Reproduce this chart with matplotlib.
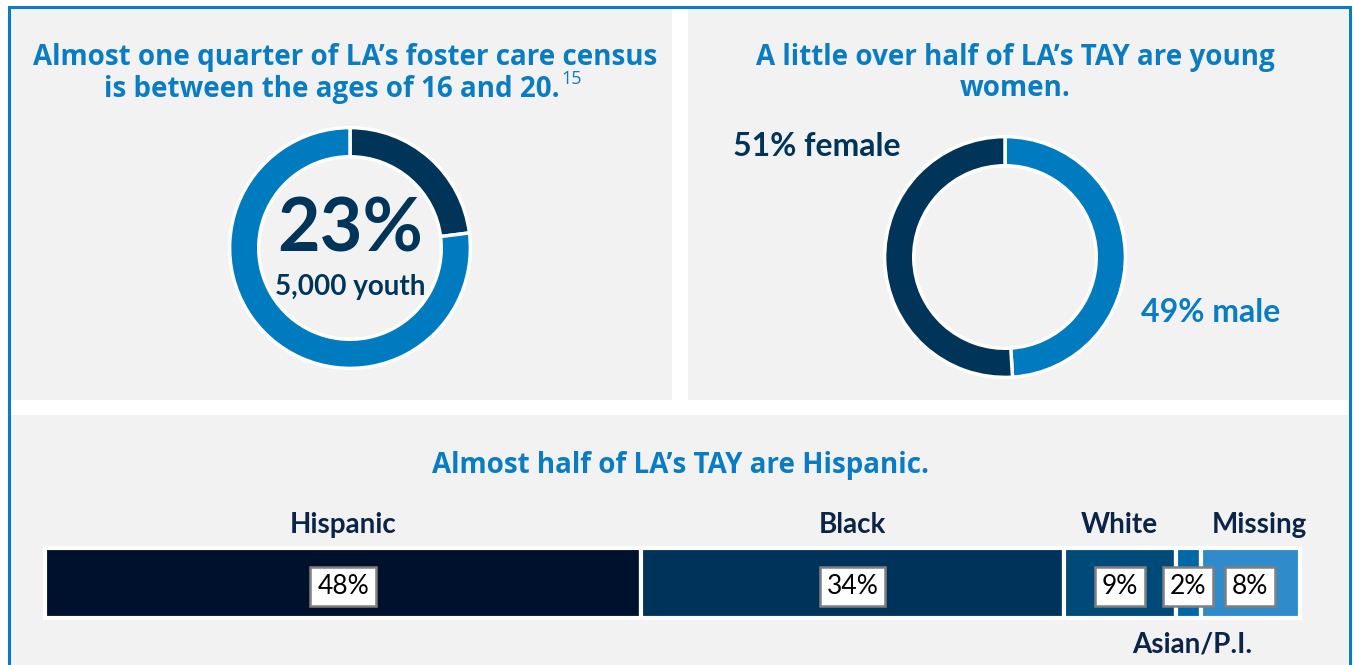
import matplotlib.pyplot as plt
from matplotlib.patches import Rectangle

# -----------------------------
# Data
# -----------------------------
age_labels = ["16-20", "other ages"]
age_share = [23, 77]
age_count = "5,000 youth"

gender_labels = ["male", "female"]
gender_share = [49, 51]

race_labels = ["Hispanic", "Black", "White", "Asian/P.I.", "Missing"]
race_share = [48, 34, 9, 2, 8]

# -----------------------------
# Style
# -----------------------------
W, H = 1353, 665
BLUE = "#0a7dc2"
NAVY = "#003459"
TXT_NAVY = "#0b2447"
PANEL = "#f2f2f2"
race_colors = ["#00112e", "#00335a", "#004a7a", "#0068a8", "#2f8bca"]

TITLE_FONT = "Open Sans"
BODY_FONT = "Lato"
TITLE_SIZE = 20

fig = plt.figure(figsize=(W / 100, H / 100), dpi=100)
fig.patch.set_facecolor("white")


def px_axes(x0, y0, x1, y1):
    """axes from pixel box (top-left origin)"""
    return fig.add_axes([x0 / W, 1 - y1 / H, (x1 - x0) / W, (y1 - y0) / H])


# background / panels
bg = fig.add_axes([0, 0, 1, 1])
bg.set_xlim(0, W)
bg.set_ylim(H, 0)
bg.axis("off")
bg.add_patch(Rectangle((10, 8), 662, 392, facecolor=PANEL, edgecolor="none"))
bg.add_patch(Rectangle((688, 8), 660, 392, facecolor=PANEL, edgecolor="none"))
bg.add_patch(Rectangle((10, 415), 1338, 260, facecolor=PANEL, edgecolor="none"))
# blue frame (left, top, right)
bg.plot([9, 9, 1350, 1350], [H + 5, 7, 7, H + 5], color=BLUE, lw=2.2, solid_joinstyle="miter")

# titles
bg.text(345, 57, "Almost one quarter of LA\u2019s foster care census", ha="center", va="center",
        fontsize=TITLE_SIZE, fontweight="bold", color=BLUE, family=TITLE_FONT)
t2 = bg.text(332, 89, "is between the ages of 16 and 20.", ha="center", va="center",
             fontsize=TITLE_SIZE, fontweight="bold", color=BLUE, family=TITLE_FONT)
bg.annotate("15", xy=(1, 0.55), xycoords=t2, xytext=(1, 0), textcoords="offset points",
            ha="left", va="bottom", fontsize=13, color=BLUE, family=TITLE_FONT)

bg.text(1015, 57, "A little over half of LA\u2019s TAY are young", ha="center", va="center",
        fontsize=TITLE_SIZE, fontweight="bold", color=BLUE, family=TITLE_FONT)
bg.text(1015, 89, "women.", ha="center", va="center",
        fontsize=TITLE_SIZE, fontweight="bold", color=BLUE, family=TITLE_FONT)

bg.text(680, 465, "Almost half of LA\u2019s TAY are Hispanic.", ha="center", va="center",
        fontsize=TITLE_SIZE, fontweight="bold", color=BLUE, family=TITLE_FONT)

# -----------------------------
# Donut 1: age
# -----------------------------
ax1 = px_axes(350 - 124, 248 - 124, 350 + 124, 248 + 124)
ax1.pie(age_share, colors=[NAVY, "#007bc0"], startangle=90, counterclock=False,
        radius=1, wedgeprops=dict(width=30 / 124, edgecolor="white", linewidth=2.5))
ax1.set_xlim(-1.03, 1.03)
ax1.set_ylim(-1.03, 1.03)
ax1.set_aspect("equal")
ax1.text(0, 0.15, f"{age_share[0]}%", ha="center", va="center", fontsize=53,
         color=NAVY, family=BODY_FONT, fontweight="bold")
ax1.text(0, -0.32, age_count, ha="center", va="center", fontsize=20,
         color=NAVY, family=BODY_FONT, fontweight="bold")

# -----------------------------
# Donut 2: gender
# -----------------------------
ax2 = px_axes(1005 - 124, 257 - 124, 1005 + 124, 257 + 124)
ax2.pie(gender_share, colors=["#007bc0", NAVY], startangle=90, counterclock=False,
        radius=1, wedgeprops=dict(width=30 / 124, edgecolor="white", linewidth=2.5))
ax2.set_xlim(-1.03, 1.03)
ax2.set_ylim(-1.03, 1.03)
ax2.set_aspect("equal")

bg.text(817, 147, f"{gender_share[1]}% {gender_labels[1]}", ha="center", va="center",
        fontsize=23, fontweight="bold", color=NAVY, family=BODY_FONT)
bg.text(1211, 313, f"{gender_share[0]}% {gender_labels[0]}", ha="center", va="center",
        fontsize=23, fontweight="bold", color="#0a7dc2", family=BODY_FONT)

# -----------------------------
# Stacked bar: race / ethnicity
# -----------------------------
ax3 = px_axes(45, 548, 1300, 618)
lefts = [sum(race_share[:i]) for i in range(len(race_share))]
ax3.barh([0] * len(race_share), race_share, left=lefts, height=1, color=race_colors,
         edgecolor="white", linewidth=3, clip_on=False)
ax3.set_xlim(0, sum(race_share))
ax3.set_ylim(-0.5, 0.5)
ax3.axis("off")

for lab, val, left in zip(race_labels, race_share, lefts):
    mid = left + val / 2
    ax3.text(mid, -0.05, f"{val}%", ha="center", va="center", fontsize=19,
             color="black", family=BODY_FONT,
             bbox=dict(boxstyle="square,pad=0.26", facecolor="white", edgecolor="#7f7f7f", lw=1.8))
    if lab == "Asian/P.I.":
        ax3.text(mid + 0.3, -0.88, lab, ha="center", va="center", fontsize=20,
                 fontweight="bold", color=TXT_NAVY, family=BODY_FONT)
    else:
        dx = 0.75 if lab == "Missing" else 0
        ax3.text(mid + dx, 0.83, lab, ha="center", va="center", fontsize=20,
                 fontweight="bold", color=TXT_NAVY, family=BODY_FONT)

fig.savefig("out.png", dpi=100, facecolor=fig.get_facecolor())
